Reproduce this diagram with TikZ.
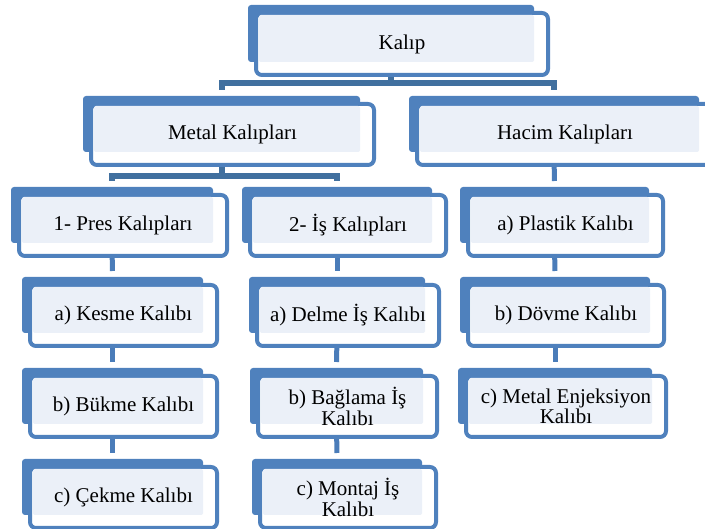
\documentclass[tikz,border=0pt]{standalone}
\usepackage{fontspec}
\setmainfont{Liberation Serif}
\pgfdeclarelayer{background}
\pgfsetlayers{background,main}
\definecolor{boxblue}{HTML}{4F81BD}
\definecolor{barblue}{HTML}{41709F}
\definecolor{lineblue}{HTML}{4A7CB9}
\definecolor{lightfill}{HTML}{EBF0F8}
\tikzset{
  backbox/.style={draw=none, fill=boxblue, rounded corners=3pt, inner sep=0pt, outer sep=0pt},
  frontbox/.style={draw=boxblue, line width=4pt, fill=white, rounded corners=6pt},
  lightbox/.style={fill=lightfill, rounded corners=2pt},
  boxtext/.style={font=\fontsize{21}{20.5}\selectfont, align=center, inner sep=0pt, text=black},
  barline/.style={draw=barblue, line width=6pt, shorten >=6pt},
  vline/.style={draw=lineblue, line width=5pt, shorten >=6pt},
}
\newcommand\kbox[6]{%
  \node[backbox, minimum width={#4-#2}, minimum height={#5-#3}, anchor=north west] (#1) at (#2,#3) {};
  \draw[frontbox] (#2+8,#3+8) rectangle (#4+14,#5+13);
  \fill[lightbox] (#2+11,#3+10) rectangle (#4,#5);
  \node[boxtext] (#1-t) at ({(#2+#4)/2+11},{(#3+#5)/2+10.5}) {#6};
}
\begin{document}
\begin{tikzpicture}[x=1pt,y=-1pt]
\useasboundingbox (0,0) rectangle (705,529);
\kbox{kalip}{248}{5}{534}{62}{Kalıp}
\kbox{metal}{83}{96}{360}{152}{Metal Kalıpları}
\kbox{hacim}{409}{96}{699}{152}{Hacim Kalıpları}
\kbox{pres}{11}{187}{213}{243}{1- Pres Kalıpları}
\kbox{is}{242}{187}{432}{243}{2- İş Kalıpları}
\kbox{plastik}{460}{187}{649}{243}{a) Plastik Kalıbı}
\kbox{kesme}{22}{277}{203}{333}{a) Kesme Kalıbı}
\kbox{bukme}{22}{368}{203}{424}{b) Bükme Kalıbı}
\kbox{cekme}{22}{459}{203}{515}{c) Çekme Kalıbı}
\kbox{delme}{249}{277}{425}{333}{a) Delme İş Kalıbı}
\kbox{baglama}{250}{368}{423}{424}{b) Bağlama İş\\Kalıbı}
\kbox{montaj}{252}{459}{422}{515}{c) Montaj İş\\Kalıbı}
\kbox{dovme}{460}{277}{650}{333}{b) Dövme Kalıbı}
\kbox{enj}{458}{368}{652}{424}{c) Metal Enjeksiyon\\Kalıbı}
\begin{pgfonlayer}{background}
  \draw[barline] (kalip.south) -- ++(0,21.5) -| (metal.north);
  \draw[barline] (kalip.south) -- ++(0,21.5) -| (hacim.north);
  \draw[barline] (metal.south) -- ++(0,24.5) -| (pres.north);
  \draw[barline] (metal.south) -- ++(0,24.5) -| (is.north);
  \draw[vline] (hacim.south) -- (plastik.north);
  \draw[vline] (plastik.south) -- (dovme.north);
  \draw[vline] (dovme.south) -- (enj.north);
  \draw[vline] (pres.south) -- (kesme.north);
  \draw[vline] (kesme.south) -- (bukme.north);
  \draw[vline] (bukme.south) -- (cekme.north);
  \draw[vline] (is.south) -- (delme.north);
  \draw[vline] (delme.south) -- (baglama.north);
  \draw[vline] (baglama.south) -- (montaj.north);
\end{pgfonlayer}
\end{tikzpicture}
\end{document}
